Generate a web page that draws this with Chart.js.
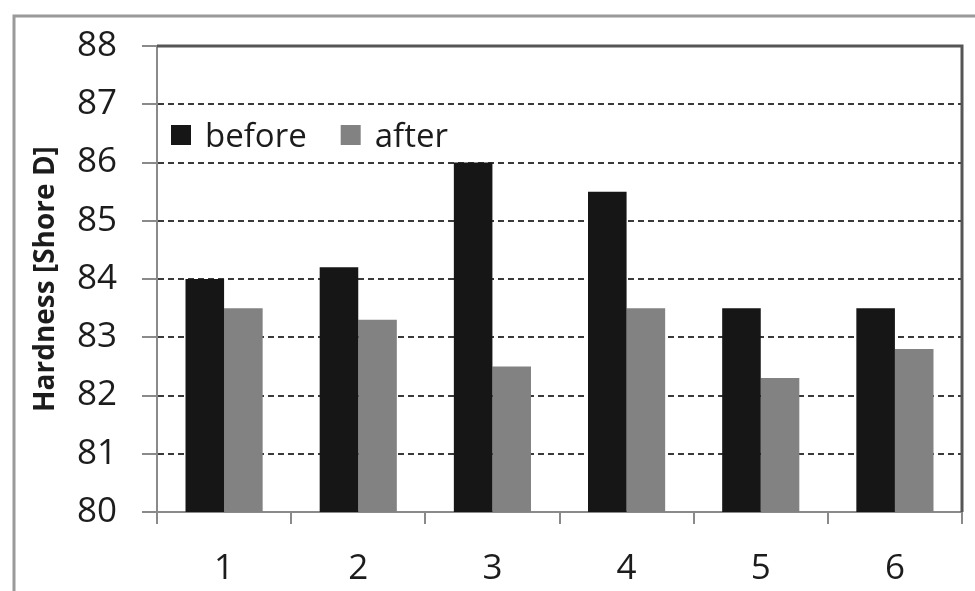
<!DOCTYPE html>
<html>
<head>
<meta charset="utf-8">
<script src="https://cdn.jsdelivr.net/npm/chart.js@4"></script>
<style>
  html, body { margin: 0; padding: 0; background: #ffffff; }
  canvas { display: block; }
</style>
</head>
<body>
<canvas id="chart" width="975" height="591"></canvas>
<script>
// Hardness of six samples, measured before and after treatment
const samples = ['1', '2', '3', '4', '5', '6'];
const before = [84.0, 84.2, 86.0, 85.5, 83.5, 83.5];
const after = [83.5, 83.3, 82.5, 83.5, 82.3, 82.8];
const seriesNames = ['before', 'after'];
const yTitle = 'Hardness [Shore D]';

const FONT = "'Open Sans', 'DejaVu Sans', sans-serif";

// White page plus the outer frame line around the figure
const framePlugin = {
  id: 'frame',
  beforeDraw(chart) {
    const ctx = chart.ctx;
    ctx.save();
    ctx.fillStyle = '#ffffff';
    ctx.fillRect(0, 0, chart.width, chart.height);
    ctx.strokeStyle = '#9a9a9a';
    ctx.lineWidth = 3;
    ctx.beginPath();
    ctx.moveTo(14, chart.height + 5);
    ctx.lineTo(14, 16);
    ctx.lineTo(chart.width + 5, 16);
    ctx.stroke();
    ctx.restore();
  }
};

// Top and right edges of the plot area
const plotBorderPlugin = {
  id: 'plotBorder',
  afterDatasetsDraw(chart) {
    const {ctx, chartArea: a} = chart;
    ctx.save();
    ctx.strokeStyle = '#555555';
    ctx.lineWidth = 3;
    ctx.beginPath();
    ctx.moveTo(a.left, a.top);
    ctx.lineTo(a.right, a.top);
    ctx.lineTo(a.right, a.bottom);
    ctx.stroke();
    ctx.restore();
  }
};

// Legend drawn inside the plot, top-left
const innerLegendPlugin = {
  id: 'innerLegend',
  afterDatasetsDraw(chart) {
    const {ctx, chartArea: a} = chart;
    ctx.save();
    ctx.font = '33px ' + FONT;
    ctx.textBaseline = 'alphabetic';
    ctx.textAlign = 'left';
    let x = a.left + 14;
    const baseY = 147;
    chart.data.datasets.forEach((ds) => {
      ctx.fillStyle = ds.backgroundColor;
      ctx.fillRect(x, 125, 20, 20);
      x += 34;
      ctx.fillStyle = '#1c1c1c';
      ctx.fillText(ds.label, x, baseY);
      x += ctx.measureText(ds.label).width + 34;
    });
    ctx.restore();
  }
};

new Chart(document.getElementById('chart'), {
  type: 'bar',
  data: {
    labels: samples,
    datasets: [
      { label: seriesNames[0], data: before, backgroundColor: '#161616', borderWidth: 0 },
      { label: seriesNames[1], data: after, backgroundColor: '#828282', borderWidth: 0 }
    ]
  },
  options: {
    responsive: false,
    animation: false,
    devicePixelRatio: 1,
    layout: { padding: { left: 0, right: 13, top: 43, bottom: 0 } },
    datasets: {
      bar: { categoryPercentage: 0.575, barPercentage: 1.0 }
    },
    plugins: {
      legend: { display: false },
      tooltip: { enabled: false }
    },
    scales: {
      x: {
        grid: {
          offset: true,
          drawOnChartArea: false,
          tickLength: 12,
          color: '#8a8a8a',
          lineWidth: 2
        },
        border: { color: '#8a8a8a', width: 2 },
        ticks: {
          font: { family: FONT, size: 35 },
          color: '#1c1c1c',
          padding: 24
        },
        afterFit(scale) { scale.height = 79; }
      },
      y: {
        min: 80,
        max: 88,
        beginAtZero: false,
        ticks: {
          stepSize: 1,
          font: { family: FONT, size: 35 },
          color: '#1c1c1c',
          padding: 25
        },
        grid: {
          color: (c) => (c.tick && (c.tick.value === 80 || c.tick.value === 88)) ? 'rgba(0,0,0,0)' : '#3a3a3a',
          lineWidth: 2,
          tickLength: 15,
          tickColor: '#8a8a8a',
          tickWidth: 2
        },
        border: { color: '#8a8a8a', width: 2, dash: [6, 4] },
        title: {
          display: true,
          text: yTitle,
          font: { family: FONT, size: 28, weight: 'bold' },
          color: '#1c1c1c',
          padding: { top: 29, bottom: 0 }
        },
        afterFit(scale) { scale.width = 157; }
      }
    }
  },
  plugins: [framePlugin, plotBorderPlugin, innerLegendPlugin]
});
</script>
</body>
</html>
